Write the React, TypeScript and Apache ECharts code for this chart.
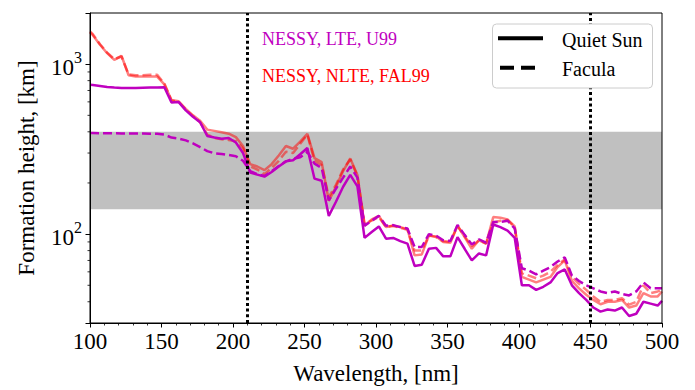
import React, { useEffect, useRef } from 'react';
import * as echarts from 'echarts';

const wavelengths = [100, 102, 107, 112, 117, 122, 127, 132, 137, 142, 147, 152, 157, 162, 167, 172, 177, 182, 187, 192, 197, 202, 207, 212, 217, 222, 227, 232, 237, 242, 247, 252, 257, 262, 267, 272, 277, 282, 287, 292, 297, 302, 307, 312, 317, 322, 327, 332, 337, 342, 347, 352, 357, 362, 367, 372, 377, 382, 387, 392, 397, 402, 407, 412, 417, 422, 427, 432, 437, 442, 447, 452, 457, 462, 467, 472, 477, 482, 487, 492, 497, 500];

const lteQuiet = [757, 755, 745, 735, 728, 725, 723, 723, 726, 728, 730, 732, 595, 598, 535, 490, 455, 378, 370, 364, 368, 346, 300, 230, 224, 218, 232, 250, 268, 272, 295, 321, 212, 206, 128, 155, 190, 223, 191, 95, 103, 111, 94, 95, 91, 88, 65, 66, 82, 83, 74, 74, 96, 82, 70, 77, 75, 114, 110, 105, 95, 50, 50, 47, 49, 52, 59, 62, 50, 45, 41, 37, 35, 36, 35.5, 37, 33, 34, 40, 39, 38, 40.5];

const lteFacula = [393, 393, 392, 392, 392, 391, 391, 391, 391, 390, 390, 385, 370, 365, 356, 342, 325, 308, 299, 296, 292, 287, 270, 235, 225, 220, 234, 252, 268, 278, 283, 305, 260, 245, 158, 185, 215, 250, 215, 112, 120, 128, 112, 113, 110, 108, 84, 84, 100, 98, 92, 91, 113, 99, 87, 93, 89, 118, 118, 120, 108, 63, 61, 58, 61, 64, 69, 73, 57, 53, 50, 48, 46, 45, 46, 44.5, 43.6, 46, 52, 48, 48, 48];

const nlteQuiet = [1540, 1480, 1300, 1160, 1060, 1120, 860, 845, 845, 845, 845, 760, 615, 605, 545, 500, 465, 412, 405, 398, 390, 372, 330, 258, 250, 238, 258, 290, 330, 318, 350, 389, 280, 265, 157, 190, 235, 279, 223, 112, 122, 128, 110, 112, 110, 107, 75, 76, 98, 97, 90, 89, 112, 96, 82, 92, 88, 126, 125, 122, 111, 56, 54, 52, 54, 56, 64, 70, 53, 48, 44, 41, 38.7, 40, 40, 41, 37, 38, 45, 43, 43, 46];

const nlteFacula = [1560, 1500, 1310, 1170, 1070, 1110, 870, 860, 860, 865, 865, 770, 610, 600, 540, 495, 455, 385, 368, 362, 358, 352, 320, 250, 240, 225, 245, 270, 305, 300, 340, 385, 270, 255, 165, 195, 240, 275, 220, 115, 120, 126, 110, 112, 109, 106, 80, 80, 98, 96, 91, 90, 112, 97, 85, 92, 88, 117, 120, 121, 110, 59, 57, 55, 57, 60, 66, 71, 56, 51, 47, 43, 40, 41, 41, 42, 38.5, 40, 50, 45, 46, 47];

const bandRange = [140, 400];
const markerWavelengths = [210, 450];
const yMinorTicks = [40, 50, 60, 70, 80, 90, 200, 300, 400, 500, 600, 700, 800, 900];
const xRange = [100, 500];
const yRange = [30, 2000];

const annotationTexts = ['NESSY, LTE, U99', 'NESSY, NLTE, FAL99'];
const legendTexts = ['Quiet Sun', 'Facula'];

const FONT = '"Liberation Serif", "Times New Roman", "DejaVu Serif", serif';
const MAGENTA = '#bf00bf';
const NLTE = 'rgba(255,0,0,0.5)';

export default function App() {
  const ref = useRef<HTMLDivElement>(null);
  useEffect(() => {
    const chart = echarts.init(ref.current!, null, { renderer: 'svg' });
    const pairs = (vals: number[]) => wavelengths.map((w, i) => [w, vals[i]]);
    const lineSeries = (name: string, vals: number[], color: string, dashed: boolean, z: number) => ({
      name,
      type: 'line',
      data: pairs(vals),
      showSymbol: false,
      symbol: 'none',
      z,
      lineStyle: { color, width: 2.5, type: dashed ? [9, 4] : 'solid' },
      silent: true,
    });
    const option: any = {
      animation: false,
      grid: { left: 90, right: 33, top: 13, bottom: 63, show: true, borderColor: '#000', borderWidth: 1, backgroundColor: 'transparent', z: 10 },
      xAxis: {
        type: 'value', min: xRange[0], max: xRange[1], interval: 50, z: 10,
        name: 'Wavelength, [nm]', nameLocation: 'middle', nameGap: 39,
        nameTextStyle: { fontFamily: FONT, fontSize: 23, color: '#000' },
        axisLine: { show: true, lineStyle: { color: '#000', width: 1 } },
        axisTick: { show: true, length: 4.5, lineStyle: { color: '#000', width: 1 } },
        minorTick: { show: true, splitNumber: 5, length: 2.5, lineStyle: { color: '#000', width: 0.8 } },
        axisLabel: { fontFamily: FONT, fontSize: 23, color: '#000', margin: 7 },
        splitLine: { show: false },
        minorSplitLine: { show: false },
      },
      yAxis: {
        type: 'log', logBase: 10, min: yRange[0], max: yRange[1], z: 10,
        name: 'Formation height, [km]', nameLocation: 'middle', nameGap: 52,
        nameTextStyle: { fontFamily: FONT, fontSize: 23, color: '#000' },
        axisLine: { show: true, lineStyle: { color: '#000', width: 1 } },
        axisTick: { show: true, length: 4.5, lineStyle: { color: '#000', width: 1 } },
        axisLabel: {
          fontFamily: FONT, fontSize: 23, color: '#000', margin: 8,
          formatter: (v: number) => {
            const l = Math.log10(v);
            if (Math.abs(l - Math.round(l)) > 1e-6) return '';
            return '{b|10}{s|' + Math.round(l) + '}';
          },
          rich: {
            b: { fontFamily: FONT, fontSize: 23, color: '#000', verticalAlign: 'bottom' },
            s: { fontFamily: FONT, fontSize: 16, color: '#000', verticalAlign: 'top', padding: [0, 0, 14, 0] },
          },
        },
        splitLine: { show: false },
      },
      series: [
        {
          type: 'line', data: [], silent: true, z: 1,
          markArea: { silent: true, itemStyle: { color: '#c0c0c0' }, data: [[{ yAxis: bandRange[0] }, { yAxis: bandRange[1] }]] },
        },
        lineSeries('NLTE quiet', nlteQuiet, NLTE, false, 2),
        lineSeries('NLTE facula', nlteFacula, NLTE, true, 3),
        lineSeries('LTE quiet', lteQuiet, MAGENTA, false, 4),
        lineSeries('LTE facula', lteFacula, MAGENTA, true, 5),
        {
          type: 'line', data: [], silent: true, z: 6,
          markLine: {
            silent: true, symbol: 'none', label: { show: false }, z: 6,
            lineStyle: { color: '#000', width: 3, type: [3, 2.7] },
            data: markerWavelengths.map((w) => ({ xAxis: w })),
          },
        },
        {
          type: 'custom', silent: true, clip: false, z: 11,
          data: yMinorTicks.map((v) => [xRange[0], v]),
          renderItem: (params: any, api: any) => {
            const p = api.coord([api.value(0), api.value(1)]);
            return { type: 'line', shape: { x1: p[0] - 2.5, y1: p[1], x2: p[0], y2: p[1] }, style: { stroke: '#000', lineWidth: 0.8 } };
          },
        },
      ],
      graphic: {
        zlevel: 1,
        z: 50,
        elements: [
          { type: 'text', x: 262, y: 39, zlevel: 1, z: 50, style: { text: annotationTexts[0], fill: MAGENTA, fontFamily: FONT, fontSize: 18, verticalAlign: 'middle', align: 'left' } },
          { type: 'text', x: 262, y: 75.5, zlevel: 1, z: 50, style: { text: annotationTexts[1], fill: '#ff0000', fontFamily: FONT, fontSize: 18, verticalAlign: 'middle', align: 'left' } },
          { type: 'rect', zlevel: 1, z: 50, z2: 1, shape: { x: 492.5, y: 24, width: 160, height: 64, r: 4 }, style: { fill: '#ffffff', stroke: '#cccccc', lineWidth: 1 } },
          { type: 'line', zlevel: 1, z: 50, z2: 2, shape: { x1: 498, y1: 38.3, x2: 543, y2: 38.3 }, style: { stroke: '#000', lineWidth: 4 } },
          { type: 'line', zlevel: 1, z: 50, z2: 2, shape: { x1: 500, y1: 67.7, x2: 536, y2: 67.7 }, style: { stroke: '#000', lineWidth: 4, lineDash: [14, 7] } },
          { type: 'text', x: 562, y: 40, zlevel: 1, z: 50, z2: 2, style: { text: legendTexts[0], fill: '#000', fontFamily: FONT, fontSize: 20, verticalAlign: 'middle', align: 'left' } },
          { type: 'text', x: 562, y: 69, zlevel: 1, z: 50, z2: 2, style: { text: legendTexts[1], fill: '#000', fontFamily: FONT, fontSize: 20, verticalAlign: 'middle', align: 'left' } },
        ],
      },
    };
    chart.setOption(option);
    return () => chart.dispose();
  }, []);
  return <div ref={ref} style={{ position: 'fixed', left: 0, top: 0, width: 695, height: 390, background: '#fff' }} />;
}
